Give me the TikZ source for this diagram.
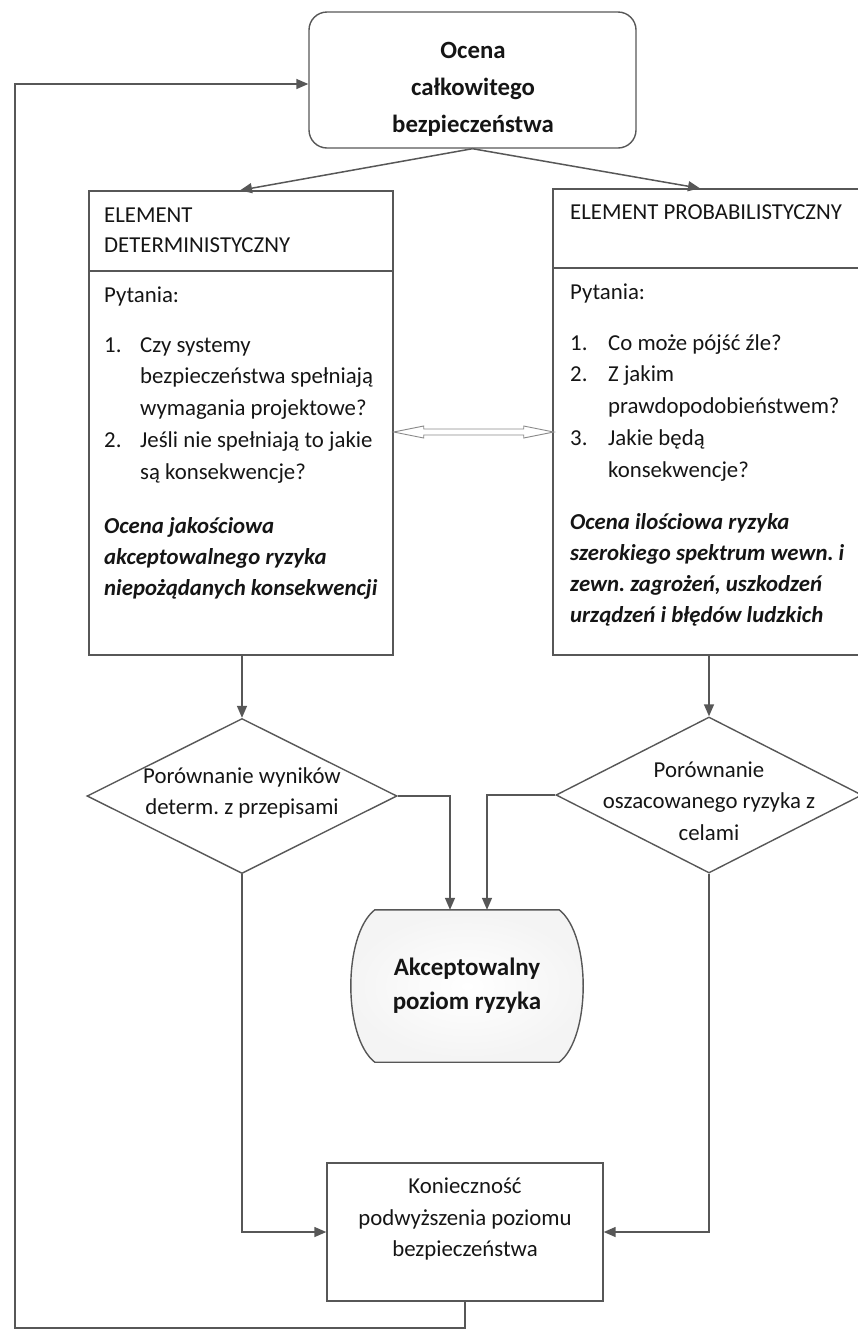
\documentclass[tikz,border=0pt]{standalone}
\usepackage{fontspec}
\setmainfont{Carlito}
\frenchspacing
\usetikzlibrary{arrows.meta,shapes.geometric,backgrounds,calc}
\definecolor{ln}{HTML}{575757}
\definecolor{lnl}{HTML}{8A8A8A}
\definecolor{tx}{HTML}{151515}
\begin{document}
\begin{tikzpicture}[x=1pt,y=-1pt,
  box/.style={draw=ln, line width=1.4pt, rectangle, inner sep=0pt},
  conn/.style={draw=ln, line width=1.5pt, -{Triangle[length=12pt,width=10pt]}},
  plain/.style={draw=ln, line width=1.4pt},
  natsp/.style={execute at begin node={\spaceskip=0pt\xspaceskip=0pt\relax}},
  body/.style={natsp, inner sep=0pt, anchor=base west, text=tx, align=left, text width=310pt,
    font=\frenchspacing\fontsize{22.8}{31}\selectfont},
  listtxt/.style={body, font=\frenchspacing\fontsize{22.8}{31.8}\selectfont},
  boldtxt/.style={body, font=\frenchspacing\bfseries\itshape\fontsize{22.8}{31.3}\selectfont},
  ctext/.style={natsp, inner sep=0pt, text=tx, align=center, font=\frenchspacing\fontsize{22.8}{31.5}\selectfont},
  decision/.style={diamond, draw=ln, line width=1.4pt, inner sep=0pt}]
\useasboundingbox (0,0) rectangle (858,1331);
\clip (0,0) rectangle (858,1331);

% top box
\node[box, rounded corners=18pt, minimum width=327pt, minimum height=136pt] (top) at (472.5,80) {};
\node[ctext, font=\bfseries\fontsize{24.8}{37}\selectfont] (toptxt) at (473,89) {Ocena\\całkowitego\\bezpieczeństwa};

% left element box
\node[box, minimum width=304pt, minimum height=464pt] (lbox) at (241,423) {};
\draw[plain] (lbox.west |- 0,271) -- (lbox.east |- 0,271);
\node[body, font=\fontsize{22.8}{30}\selectfont] (lhead) at (104,222) {ELEMENT\\DETERMINISTYCZNY};
\node[body] (lq) at (104,302) {Pytania:};
\node[listtxt] (llist) at (104,352) {\makebox[36pt][l]{1.}Czy systemy\\
\hspace*{36pt}bezpieczeństwa spełniają\\
\hspace*{36pt}wymagania projektowe?\\
\makebox[36pt][l]{2.}Jeśli nie spełniają to jakie\\
\hspace*{36pt}są konsekwencje?};
\node[boldtxt] (lbold) at (104,533) {Ocena jakościowa\\akceptowalnego ryzyka\\niepożądanych konsekwencji};

% right element box
\node[box, minimum width=317pt, minimum height=466pt] (rbox) at (711.5,422) {};
\draw[plain] (rbox.west |- 0,268) -- (rbox.east |- 0,268);
\node[body] (rhead) at (570,219) {ELEMENT PROBABILISTYCZNY};
\node[body] (rq) at (570,299) {Pytania:};
\node[listtxt] (rlist) at (570,350) {\makebox[38pt][l]{1.}Co może pójść źle?\\
\makebox[38pt][l]{2.}Z jakim\\
\hspace*{38pt}prawdopodobieństwem?\\
\makebox[38pt][l]{3.}Jakie będą\\
\hspace*{38pt}konsekwencje?};
\node[boldtxt] (rbold) at (570,529) {Ocena ilościowa ryzyka\\szerokiego spektrum wewn. i\\zewn. zagrożeń, uszkodzeń\\urządzeń i błędów ludzkich};

% hollow double arrow between the boxes
\coordinate (dy) at (0,432);
\draw[draw=lnl, line width=0.9pt, fill=white] (lbox.east |- dy) -- ++(30,-6) -- ++(0,3) -- ++(100,0) -- ++(0,-3) -- ++(30,6)
  -- ++(-30,6) -- ++(0,-3) -- ++(-100,0) -- ++(0,3) -- cycle;

% decisions
\node[decision, minimum width=310pt, minimum height=155pt] (ld) at (242,796) {};
\node[ctext] (ldt) at (242,793) {Porównanie wyników\\determ. z przepisami};
\node[decision, minimum width=306pt, minimum height=156pt] (rd) at (709,795) {};
\node[ctext] (rdt) at (709,801) {Porównanie\\oszacowanego ryzyka z\\celami};

% terminal
\node[natsp, inner sep=0pt, minimum width=236pt, minimum height=152pt, text=tx, align=center,
  font=\bfseries\fontsize{25}{34}\selectfont] (acc) at (467,986) {Akceptowalny\\poziom ryzyka};
\begin{scope}[on background layer]
\draw[draw=ln, line width=1.4pt, inner color=white, outer color=gray!9]
  ($(acc.north west)+(26,0)$) -- ($(acc.north east)+(-26,0)$)
  .. controls ($(acc.north east)+(6,25)$) and ($(acc.south east)+(6,-25)$) .. ($(acc.south east)+(-26,0)$)
  -- ($(acc.south west)+(26,0)$)
  .. controls ($(acc.south west)+(-6,-25)$) and ($(acc.north west)+(-6,25)$) .. cycle;
\end{scope}

% bottom box
\node[box, minimum width=276pt, minimum height=138pt] (bot) at (465,1232) {};
\node[ctext] (bott) at (465,1219) {Konieczność\\podwyższenia poziomu\\bezpieczeństwa};

% connectors
\draw[conn] (top.south) -- (240,0 |- lbox.north);
\draw[conn] (top.south) -- (700,0 |- rbox.north);
\draw[conn] (ld.north |- lbox.south) -- (ld.north);
\draw[conn] (rd.north |- rbox.south) -- (rd.north);
\draw[conn] (ld.east) -| ([xshift=-17pt]acc.north);
\draw[conn] (rd.west) -| ([xshift=20pt]acc.north);
\draw[conn] (ld.south) |- (bot.west);
\draw[conn] (rd.south) |- (bot.east);
\coordinate (lp1) at (15,1328);
\coordinate (lp2) at (15,84);
\draw[conn] (bot.south) |- (lp1) -- (lp2) -- (lp2 -| top.west);
\end{tikzpicture}
\end{document}
